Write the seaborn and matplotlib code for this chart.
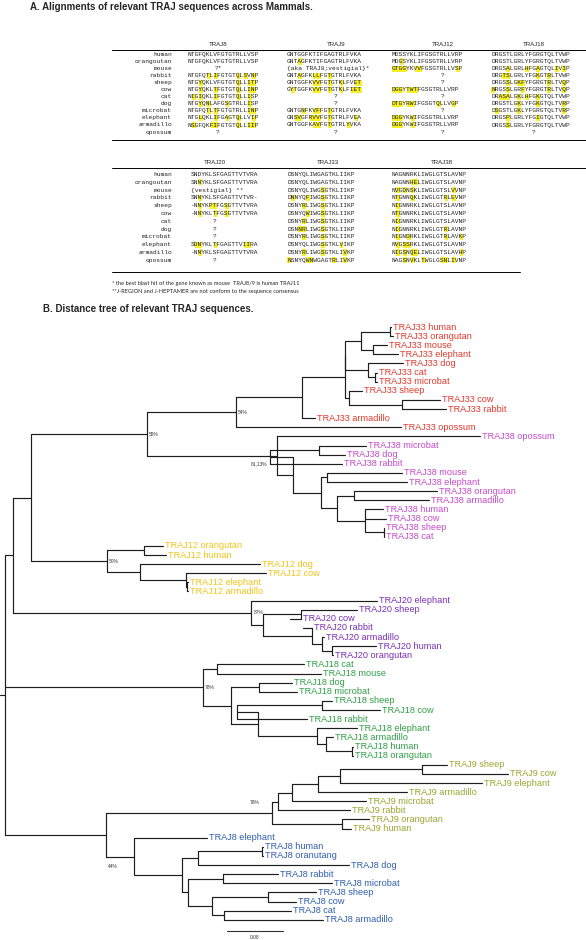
import re

import matplotlib
matplotlib.use("Agg")
import matplotlib.pyplot as plt
import pandas as pd
import seaborn as sns
from matplotlib.patches import Rectangle

# ---------------- panel A: TRAJ alignments (lower case = yellow highlight) ----------------
SPECIES = ["human", "orangoutan", "mouse", "rabbit", "sheep", "cow", "cat",
           "dog", "microbat", "elephant", "armadillo", "opossum"]

TRAJ8 = ["NTGFQKLVFGTGTRLLVSP", "NTGFQKLVFGTGTRLLVSP", "?*", "NTGFQtLiFGTGTqLsVnP",
         "NTGyQKLVFGTGTqLLitP", "NTGyQKLtFGTGTqLLinP", "NiGiQKLiFGTGTqLLiSP",
         "NTGyQnLAFGsGTRLLiSP", "NTGFQtLtFGTGTRLLinP", "NTGlQKLiFGaGTqLLViP",
         "NsGFQKfiFGTGTqLLiiP", "?"]
TRAJ9 = ["GNTGGFKTIFGAGTRLFVKA", "GNTaGFKTIFGAGTRLFVKA", "{aka TRAJ8;vestigial}*",
         "GNTaGFKllFGtGTRLFVKA", "GNTGGFKvvFGtGTkLFVet", "GyTGGFKvvFGtGTkLFiet",
         "?", "?", "GNTGnFKvfFGtGTRLFVKA", "GNsvGFrvvFGtGTRLFVeA",
         "GNTGGFKavFGtGTRLyVKA", "?"]
TRAJ12 = ["MDSSYKLIFGSGTRLLVRP", "MDgSYKLIFGSGTRLLVRP", "gtggYKvvFGSGTRLLVsP", "?",
          "?", "dggYtwtFGSGTRLLVRP", "?", "dtgYrwIFGSGTqLLVgP", "?",
          "dggYKwIFGSGTRLLVRP", "dggYKwIFGSGTRLLVRP", "?"]
TRAJ18 = ["DRGSTLGRLYFGRGTQLTVWP", "DRGSTLGRLYFGRGTQLTVWP", "DRGSaLGRLhFGaGTQLiViP",
          "DRGtsLGRLYFGkGTrLTVWP", "DRGSsLGkfYFGRGTrLTVqP", "nRGSsLGRfYFGRGTrLTVqP",
          "DRasaLGkLhFGkGTQLTVWP", "DRGSTLGkLYFGkGTQLTVrP", "DsGSTLGkLYFGRGTQLTVrP",
          "DRGSpLGRLYFGiGTQLTVWP", "DRGSsLGRLYFGRGTQLTVWP", "?"]
TRAJ20 = ["SNDYKLSFGAGTTVTVRA", "SNnYKLSFGAGTTVTVRA", "{vestigial} **", "SNnYKLSFGAGTTVTVR-",
          "-NnYKptFGsGTTVTVRA", "-NnYKLtFGsGTTVTVRA", "?", "?", "?",
          "SdnYKLtFGAGTTViiRA", "-NnYKLSFGAGTTVTVRA", "?"]
TRAJ33 = ["DSNYQLIWGAGTKLIIKP", "DSNYQLIWGAGTKLIIKP", "DSNYQLIWGsGTKLIIKP",
          "DnNYQfIWGsGTKLIIKP", "DSNYrLIWGsGTKLIIKP", "DSNYQwIWGsGTKLIIKP",
          "DSNYrLIWGsGTKLIIKP", "DSNnrLIWGsGTKLIIKP", "DSNYrLIWGsGTKLIIKP",
          "DSNYQLIWGsGTKLvIKP", "DSNYrLIWGsGTKLIvKP", "nSNYQwnWGAGTrLIvKP"]
TRAJ38 = ["NAGNNRKLIWGLGTSLAVNP", "NAGNNheLIWGLGTSLAVNP", "NvGdNsKLIWGLGTSLvVNP",
          "NtGNNqKLIWGLGTrLeVNP", "NiGNNRKLIWGLGTSLAVNP", "NtGNNRKLIWGLGTSLAVNP",
          "NiGNNRKLIWGLGTSLAVNP", "NiGNNRKLIWGLGTrLAVNP", "NiGNdRKLIWGLGTrLAVkP",
          "NvGssRKLIWGLGTSLAVNP", "NiGsNqeLIWGLGTSLAVhP", "NAGsNvKLtWGLGsnLiVNP"]

SEQS = {"TRAJ8": TRAJ8, "TRAJ9": TRAJ9, "TRAJ12": TRAJ12, "TRAJ18": TRAJ18,
        "TRAJ20": TRAJ20, "TRAJ33": TRAJ33, "TRAJ38": TRAJ38}

FOOTNOTES = ["* the best blast hit of the gene known as mouse  TRAJ8/9 is human TRAJ11",
             "**J-REGION and J-HEPTAMER are not conform to the sequence consensus"]

# ---------------- panel B: distance tree, one newick piece per clade ----------------
TRAJ33_CLADE = ("((((((TRAJ33 human:0.001,TRAJ33 orangutan:0.004):0.041,"
                "(TRAJ33 mouse:0.020,TRAJ33 elephant:0.036):0.016):0.024,"
                "(TRAJ33 dog:0.049,(TRAJ33 cat:0.003,TRAJ33 microbat:0.003):0.009):0.034):0.0,"
                "(TRAJ33 sheep:0.019,(TRAJ33 cow:0.054,TRAJ33 rabbit:0.063):0.076):0.006):0.061,"
                "TRAJ33 armadillo:0.019):0.094,TRAJ33 opossum:0.236)54%")
TRAJ38_CLADE = ("(TRAJ38 opossum:0.290,(((TRAJ38 microbat:0.066,TRAJ38 dog:0.037):0.071,"
                "TRAJ38 rabbit:0.104):-0.034,((TRAJ38 mouse:0.107,TRAJ38 elephant:0.114):0.009,"
                "((TRAJ38 orangutan:0.119,TRAJ38 armadillo:0.107):0.024,"
                "(TRAJ38 human:0.026,TRAJ38 cow:0.030,(TRAJ38 sheep:0.001,TRAJ38 cat:0.001):0.027)"
                ":0.040):0.023):0.039):0.023)'81,13%'")
TRAJ12_CLADE = ("((TRAJ12 orangutan:0.027,TRAJ12 human:0.031):0.053,(TRAJ12 dog:0.171,"
                "(TRAJ12 cow:0.114,(TRAJ12 elephant:0.001,TRAJ12 armadillo:0.001):0.001):0.066)"
                ":0.047)50%")
TRAJ20_CLADE = ("(TRAJ20 elephant:0.179,((TRAJ20 sheep:0.080,TRAJ20 cow:-0.016):0.054,"
                "(TRAJ20 rabbit:-0.013,(TRAJ20 armadillo:0.003,(TRAJ20 human:0.063,"
                "TRAJ20 orangutan:0.001):0.014):0.014):0.070):0.017)87%")
TRAJ18_CLADE = ("((TRAJ18 cat:0.124,TRAJ18 mouse:0.149):0.020,((TRAJ18 dog:0.047,"
                "TRAJ18 microbat:0.054):0.040,(((TRAJ18 sheep:0.014,TRAJ18 cow:0.083):0.121,"
                "TRAJ18 rabbit:0.100):-0.030,(TRAJ18 elephant:0.057,(TRAJ18 armadillo:0.009,"
                "(TRAJ18 human:0.001,TRAJ18 orangutan:0.001):0.037):0.013):0.084):0.039):0.040)78%")
TRAJ9_CLADE = ("((((((TRAJ9 sheep:0.037,TRAJ9 cow:0.124):0.117,TRAJ9 elephant:0.203):0.031,"
               "TRAJ9 armadillo:0.127):0.037,TRAJ9 microbat:0.106):0.020,TRAJ9 rabbit:0.103):0.009,"
               "(TRAJ9 orangutan:0.039,TRAJ9 human:0.013):0.100)78%")
TRAJ8_CLADE = ("(TRAJ8 elephant:0.104,(((TRAJ8 human:0.001,TRAJ8 oranutang:0.001):0.091,"
               "TRAJ8 dog:0.216):0.023,((TRAJ8 rabbit:0.079,TRAJ8 microbat:0.156):0.049,"
               "((TRAJ8 sheep:0.069,TRAJ8 cow:0.041):0.079,(TRAJ8 cat:0.096,"
               "TRAJ8 armadillo:0.141):0.017):0.034):0.009):0.069)44%")
BACKBONE = ("(((({t33}:0.127,{t38}:0.186)55%:0.166,{t12}:0.109):0.026,{t20}:0.341):0.011,"
            "{t18}:0.283,({t9}:0.237,{t8}:0.040):0.144);")
SCALE_LEN = 0.08

GENE_COLORS = {"TRAJ33": "#e0392d", "TRAJ38": "#c44bc9", "TRAJ12": "#f0c419",
               "TRAJ20": "#7a30b4", "TRAJ18": "#2f9f46", "TRAJ9": "#98a731",
               "TRAJ8": "#2f5ead"}

# ---------------- layout (pixels of the 586x940 figure) ----------------
MONO = ["Liberation Mono", "DejaVu Sans Mono"]
SANS = ["Liberation Sans", "DejaVu Sans"]
SEQ_FS = 4.5
CW = SEQ_FS * 100 / 72 * 0.6
YELLOW = "#f7f026"
BLOCKS = [
    dict(genes=["TRAJ8", "TRAJ9", "TRAJ12", "TRAJ18"], starts=[188, 287, 392, 491],
         centers=[218, 336, 443, 534], header_y=45, row_y0=54.5, row_dy=7.05,
         top_line=50, bottom_line=140, x1=586),
    dict(genes=["TRAJ20", "TRAJ33", "TRAJ38"], starts=[191, 287, 392],
         centers=[215, 328, 442], header_y=163, row_y0=174.5, row_dy=7.8,
         top_line=168, bottom_line=272, x1=520),
]
SPECIES_X = 172
PX_PER_UNIT = 700.0
ROOT_PX = 5
LEAF_Y0_PX, LEAF_DY_PX, TREE_TOP_PX = 327, 9.12, 318
# bootstrap label offsets (dx px, dy px, ha) in preorder
BOOT_STYLE = [(2, 0, "left"), (2, 0, "left"), (-10, 8, "right"), (2, 0, "left"),
              (2, 0, "left"), (2, 0, "left"), (-12, -10, "right"), (-26, 10, "left")]


def parse_newick(s):
    tokens = [t for t in re.findall(r"'[^']*'|[(),:;]|[^(),:;']+", s) if t.strip()]
    pos = 0

    def node():
        nonlocal pos
        kids = []
        if tokens[pos] == "(":
            pos += 1
            while True:
                kids.append(node())
                tok = tokens[pos]
                pos += 1
                if tok == ")":
                    break
        name = ""
        if tokens[pos] not in ("(", ")", ",", ":", ";"):
            name = tokens[pos].strip().strip("'")
            pos += 1
        length = 0.0
        if tokens[pos] == ":":
            length = float(tokens[pos + 1])
            pos += 2
        return {"name": name, "len": length, "children": kids}

    return node()


def layout(n, parent_x, leaves):
    n["px"] = parent_x
    n["x"] = parent_x + n["len"]
    if not n["children"]:
        n["y"] = len(leaves)
        leaves.append(n)
    else:
        for c in n["children"]:
            layout(c, n["x"], leaves)
        n["y"] = (n["children"][0]["y"] + n["children"][-1]["y"]) / 2


def walk(n):
    yield n
    for c in n["children"]:
        yield from walk(c)


sns.set_theme(style="white")
plt.rcParams["font.family"] = SANS

fig = plt.figure(figsize=(5.86, 9.40), dpi=100)
ax = fig.add_axes([0, 0, 1, 1])
ax.set_xlim(0, 586)
ax.set_ylim(940, 0)
ax.axis("off")

# ---- panel A ----
ax.text(30, 7.5, "A. Alignments of relevant TRAJ sequences across Mammals.",
        fontsize=7.0, fontweight="bold", va="center", ha="left")
for blk in BLOCKS:
    for g, start, cx in zip(blk["genes"], blk["starts"], blk["centers"]):
        ax.text(cx, blk["header_y"], g, fontsize=4.4, ha="center", va="center")
        for i, cell in enumerate(SEQS[g]):
            y = blk["row_y0"] + i * blk["row_dy"]
            if re.fullmatch(r"[A-Za-z-]+", cell):
                for j, ch in enumerate(cell):
                    if ch.islower():
                        ax.add_patch(Rectangle((start + j * CW, y - 3.1), CW, 6.2,
                                               color=YELLOW, lw=0, zorder=1))
                ax.text(start, y, cell.upper(), family=MONO, fontsize=SEQ_FS,
                        ha="left", va="center", zorder=2)
            elif len(cell) > 3:
                ax.text(start, y, cell, family=MONO, fontsize=SEQ_FS,
                        ha="left", va="center", zorder=2)
            else:
                ax.text(cx, y, cell, family=MONO, fontsize=SEQ_FS,
                        ha="center", va="center", zorder=2)
    for i, sp in enumerate(SPECIES):
        ax.text(SPECIES_X, blk["row_y0"] + i * blk["row_dy"], sp, family=MONO,
                fontsize=SEQ_FS, ha="right", va="center")
    ax.plot([112, 586], [blk["top_line"]] * 2, color="black", lw=0.7)
    ax.plot([112, blk["x1"]], [blk["bottom_line"]] * 2, color="black", lw=0.7)

for k, note in enumerate(FOOTNOTES):
    ax.text(112, 284 + 7 * k, note, fontsize=4.1, family=["Lato", "DejaVu Sans"],
            ha="left", va="center")

ax.text(43, 309, "B. Distance tree of relevant TRAJ sequences.",
        fontsize=7.0, fontweight="bold", va="center", ha="left")

# ---- panel B ----
tree = parse_newick(BACKBONE.format(t33=TRAJ33_CLADE, t38=TRAJ38_CLADE, t12=TRAJ12_CLADE,
                                    t20=TRAJ20_CLADE, t18=TRAJ18_CLADE, t9=TRAJ9_CLADE,
                                    t8=TRAJ8_CLADE))
leaves = []
layout(tree, 0.0, leaves)

tax = fig.add_axes([0, 0, 1, (940 - TREE_TOP_PX) / 940])
tax.patch.set_alpha(0)
tax.set_xlim(-ROOT_PX / PX_PER_UNIT, (586 - ROOT_PX) / PX_PER_UNIT)
tax.set_ylim((940 - LEAF_Y0_PX) / LEAF_DY_PX, -(LEAF_Y0_PX - TREE_TOP_PX) / LEAF_DY_PX)

rows = []
seg = 0
for n in walk(tree):
    if n["children"]:
        kids = n["children"]
        rows += [(seg, n["x"], kids[0]["y"]), (seg, n["x"], kids[-1]["y"])]
        seg += 1
        for c in kids:
            rows += [(seg, n["x"], c["y"]), (seg, c["x"], c["y"])]
            seg += 1
rows += [(seg, -ROOT_PX / PX_PER_UNIT, tree["y"]), (seg, 0.0, tree["y"])]
seg_df = pd.DataFrame(rows, columns=["seg", "x", "y"])
sns.lineplot(data=seg_df, x="x", y="y", units="seg", estimator=None, sort=False,
             color="#1e1e1e", lw=0.85, legend=False, ax=tax)
tax.axis("off")

pad = 2 / PX_PER_UNIT
for lf in leaves:
    gene = lf["name"].split()[0]
    tax.text(max(lf["x"], lf["px"]) + pad, lf["y"], lf["name"], fontsize=6.6,
             color=GENE_COLORS[gene], ha="left", va="center")

boots = [n for n in walk(tree) if n["children"] and n["name"]]
for n, (dx, dy, ha) in zip(boots, BOOT_STYLE):
    tax.text(n["x"] + dx / PX_PER_UNIT, n["y"] + dy / LEAF_DY_PX, n["name"],
             fontsize=3.5, color="#333333", ha=ha, va="center")

sb_y = len(leaves) - 1 + 1.22
sb_x0 = 0.317
tax.plot([sb_x0, sb_x0 + SCALE_LEN], [sb_y, sb_y], color="#333333", lw=0.8)
tax.text(sb_x0 + SCALE_LEN / 2, sb_y + 0.7, f"{SCALE_LEN:.2f}", fontsize=3.5,
         color="#333333", ha="center", va="center")

fig.savefig("out.png", dpi=100)
